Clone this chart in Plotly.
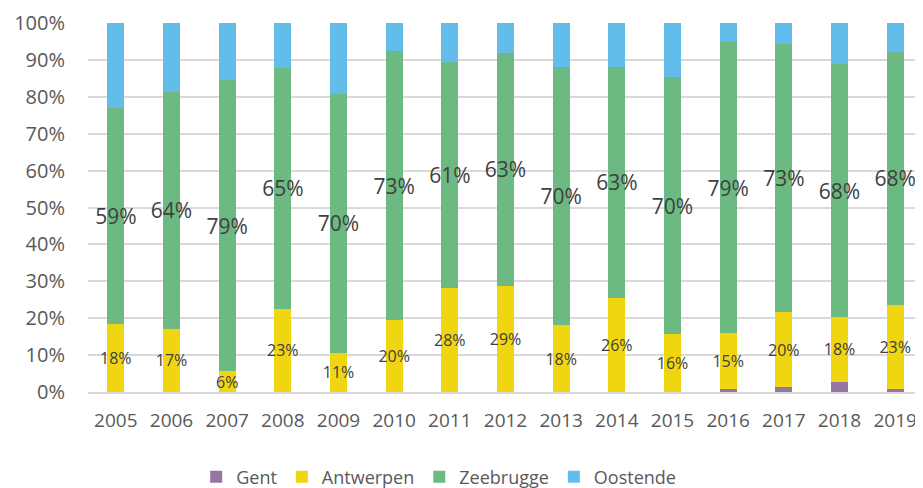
import plotly.graph_objects as go

# Share of each port per year (%)
years = ["2005", "2006", "2007", "2008", "2009", "2010", "2011", "2012",
         "2013", "2014", "2015", "2016", "2017", "2018", "2019"]
gent = [0, 0, 0, 0, 0, 0, 0, 0, 0, 0, 0, 0.8, 1.3, 2.7, 0.7]
antwerpen = [18.3, 17.2, 5.6, 22.6, 10.6, 19.6, 28.3, 28.8, 18.1, 25.6,
             15.7, 15.2, 20.4, 17.7, 23.0]
zeebrugge = [58.6, 64.1, 79.0, 65.3, 70.2, 72.7, 61.0, 63.0, 70.1, 62.6,
             69.6, 78.8, 72.7, 68.4, 68.4]
oostende = [round(100 - g - a - z, 1) for g, a, z in zip(gent, antwerpen, zeebrugge)]

colors = {
    'Gent': '#9576A3',
    'Antwerpen': '#F0D611',
    'Zeebrugge': '#6CBA81',
    'Oostende': '#62BDEA',
}

FONT = "Open Sans"
TEXT_GREY = "#595959"

fig = go.Figure()

# Gent and Oostende carry no labels; Antwerpen small labels, Zeebrugge larger ones
series = [
    ("Gent", gent, None),
    ("Antwerpen", antwerpen, 16),
    ("Zeebrugge", zeebrugge, 21),
    ("Oostende", oostende, None),
]
for name, vals, label_size in series:
    kw = {}
    if label_size:
        kw = dict(
            texttemplate="%{y:.0f}%",
            textposition="inside",
            insidetextanchor="middle",
            textangle=0,
            constraintext="none",
            textfont=dict(family=FONT, size=label_size, color="#404040"),
        )
    fig.add_trace(go.Bar(
        x=years, y=vals, name=name,
        marker=dict(color=colors[name], line=dict(width=0)),
        hoverinfo="skip",
        **kw,
    ))

# page body has an 8px margin, so the figure is sized / offset to compensate
fig.update_layout(
    barmode="stack",
    bargap=0.69,
    width=915, height=480,
    margin=dict(l=80, r=0, t=15, b=96),
    plot_bgcolor="white",
    paper_bgcolor="white",
    font=dict(family=FONT, color=TEXT_GREY),
    legend=dict(
        orientation="h",
        x=0.42, xanchor="center",
        yref="container",
        y=0.023, yanchor="middle",
        font=dict(family=FONT, size=18, color=TEXT_GREY),
        itemwidth=30,
        traceorder="normal",
    ),
)

fig.update_yaxes(
    range=[0, 100],
    dtick=10,
    ticksuffix="%",
    showgrid=True,
    gridcolor="#D9D9D9",
    gridwidth=1.5,
    zeroline=False,
    showline=False,
    tickfont=dict(family=FONT, size=20, color=TEXT_GREY),
    ticklabelstandoff=22,
)

fig.update_xaxes(
    showgrid=False,
    showline=True,
    linecolor="#D9D9D9",
    linewidth=1.5,
    tickfont=dict(family=FONT, size=19, color=TEXT_GREY),
    ticklabelstandoff=10,
)

fig.write_html("out.html")
